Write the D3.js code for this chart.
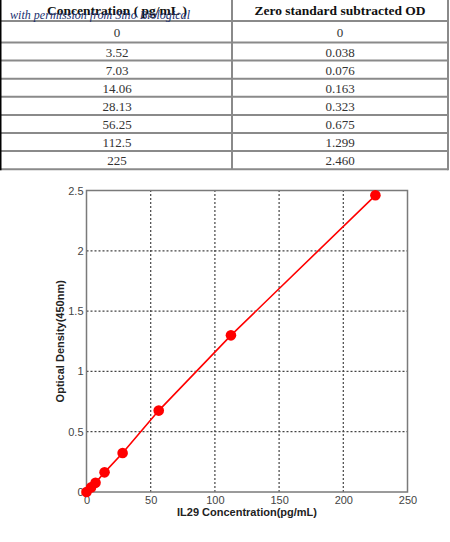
<!DOCTYPE html>
<html><head><meta charset="utf-8">
<script src="https://cdn.jsdelivr.net/npm/d3@7"></script>
<style>body{margin:0;background:#fff;}svg{display:block;}</style>
</head><body>
<svg id="c" width="450" height="542"></svg>
<script>
const concentrations = [0, 3.52, 7.03, 14.06, 28.13, 56.25, 112.5, 225];
const odValues = [0, 0.038, 0.076, 0.163, 0.323, 0.675, 1.299, 2.460];
const concLabels = ["0", "3.52", "7.03", "14.06", "28.13", "56.25", "112.5", "225"];
const odLabels = ["0", "0.038", "0.076", "0.163", "0.323", "0.675", "1.299", "2.460"];
const headers = ["Concentration ( pg/mL )", "Zero standard subtracted OD"];
const xTicks = [0, 50, 100, 150, 200, 250];
const yTicks = [0, 0.5, 1, 1.5, 2, 2.5];
const xTitle = "IL29 Concentration(pg/mL)";
const yTitle = "Optical Density(450nm)";
const watermark = "with permission from Sino Biological";

const svg = d3.select("#c");

// ---- table ----
const tbl = svg.append("g");
const colX = [0, 232, 448];
const rowLines = [21, 42.5];
for (let i = 1; i <= concLabels.length - 1; i++) rowLines.push(42.5 + i * 18.1);
const rowTops = rowLines.slice(0, rowLines.length - 1);
const rowBots = rowLines.slice(1);
tbl.selectAll("line.h").data(rowLines).join("line")
  .attr("x1", 0).attr("x2", colX[2]).attr("y1", d => d).attr("y2", d => d)
  .attr("stroke", "#8a8a8a").attr("stroke-width", 2);
tbl.append("line").attr("x1", colX[1]).attr("x2", colX[1]).attr("y1", 0).attr("y2", rowLines[rowLines.length-1])
  .attr("stroke", "#8a8a8a").attr("stroke-width", 2);
tbl.append("line").attr("x1", colX[2]).attr("x2", colX[2]).attr("y1", 0).attr("y2", rowLines[rowLines.length-1]+1)
  .attr("stroke", "#8a8a8a").attr("stroke-width", 2);
tbl.append("line").attr("x1", 0.75).attr("x2", 0.75).attr("y1", 0).attr("y2", rowLines[rowLines.length-1]+1)
  .attr("stroke", "#000").attr("stroke-width", 1.5);

const colC = [117, 340];
tbl.selectAll("text.hd").data(headers).join("text")
  .attr("x", (d, i) => colC[i]).attr("y", 15)
  .attr("text-anchor", "middle")
  .attr("font-family", "Liberation Serif, Times New Roman, serif")
  .attr("font-weight", "bold").attr("font-size", 13.5).attr("fill", "#111")
  .text(d => d);
[concLabels, odLabels].forEach((col, ci) => {
  tbl.selectAll("text.c" + ci).data(col).join("text")
    .attr("x", colC[ci])
    .attr("y", (d, i) => (rowTops[i] + rowBots[i]) / 2 + 5)
    .attr("text-anchor", "middle")
    .attr("font-family", "Liberation Serif, Times New Roman, serif")
    .attr("font-size", 13).attr("fill", "#333")
    .text(d => d);
});
tbl.append("text").attr("x", 10).attr("y", 19)
  .attr("font-family", "Liberation Serif, Times New Roman, serif")
  .attr("font-style", "italic").attr("font-size", 13).attr("fill", "#1c3170")
  .attr("textLength", 180).attr("lengthAdjust", "spacingAndGlyphs")
  .text(watermark);

// ---- chart ----
const x = d3.scaleLinear().domain([0, 250]).range([86.5, 407.5]);
const y = d3.scaleLinear().domain([0, 2.5]).range([492, 190.5]);
const g = svg.append("g");

// grid
g.selectAll("line.gx").data(xTicks.slice(1, -1)).join("line")
  .attr("x1", d => x(d)).attr("x2", d => x(d)).attr("y1", y(0)).attr("y2", y(2.5))
  .attr("stroke", "#444").attr("stroke-width", 1.2).attr("stroke-dasharray", "2,2");
g.selectAll("line.gy").data(yTicks.slice(1, -1)).join("line")
  .attr("x1", x(0)).attr("x2", x(250)).attr("y1", d => y(d)).attr("y2", d => y(d))
  .attr("stroke", "#444").attr("stroke-width", 1.2).attr("stroke-dasharray", "2,2");

// frame
g.append("rect").attr("x", x(0)).attr("y", y(2.5)).attr("width", x(250) - x(0)).attr("height", y(0) - y(2.5))
  .attr("fill", "none").attr("stroke", "#7a7a7a").attr("stroke-width", 1.5);

// axes
const fmt = d => String(d);
const xAxis = g.append("g").attr("transform", `translate(0,${y(0)})`)
  .call(d3.axisBottom(x).tickValues(xTicks).tickFormat(fmt).tickSize(0).tickPadding(4));
const yAxis = g.append("g").attr("transform", `translate(${x(0)},0)`)
  .call(d3.axisLeft(y).tickValues(yTicks).tickFormat(fmt).tickSize(0).tickPadding(3));
[xAxis, yAxis].forEach(a => {
  a.select(".domain").remove();
  a.selectAll("text").attr("font-family", "Liberation Sans, Arial, sans-serif")
    .attr("font-size", 11).attr("fill", "#444");
});

// line + markers
const line = d3.line().x((d, i) => x(concentrations[i])).y(d => y(d));
g.append("path").datum(odValues).attr("d", line)
  .attr("fill", "none").attr("stroke", "#ff0000").attr("stroke-width", 1.6);
g.selectAll("circle.pt").data(odValues).join("circle")
  .attr("cx", (d, i) => x(concentrations[i])).attr("cy", d => y(d)).attr("r", 5.3)
  .attr("fill", "#ff0000");

// titles
g.append("text").attr("x", (x(0) + x(250)) / 2).attr("y", 516).attr("text-anchor", "middle")
  .attr("font-family", "Liberation Sans, Arial, sans-serif").attr("font-weight", "bold")
  .attr("font-size", 11).attr("fill", "#222").text(xTitle);
g.append("text").attr("transform", `translate(64,${(y(0) + y(2.5)) / 2}) rotate(-90)`)
  .attr("text-anchor", "middle")
  .attr("font-family", "Liberation Sans, Arial, sans-serif").attr("font-weight", "bold")
  .attr("font-size", 11).attr("fill", "#222").text(yTitle);
</script>
</body></html>
